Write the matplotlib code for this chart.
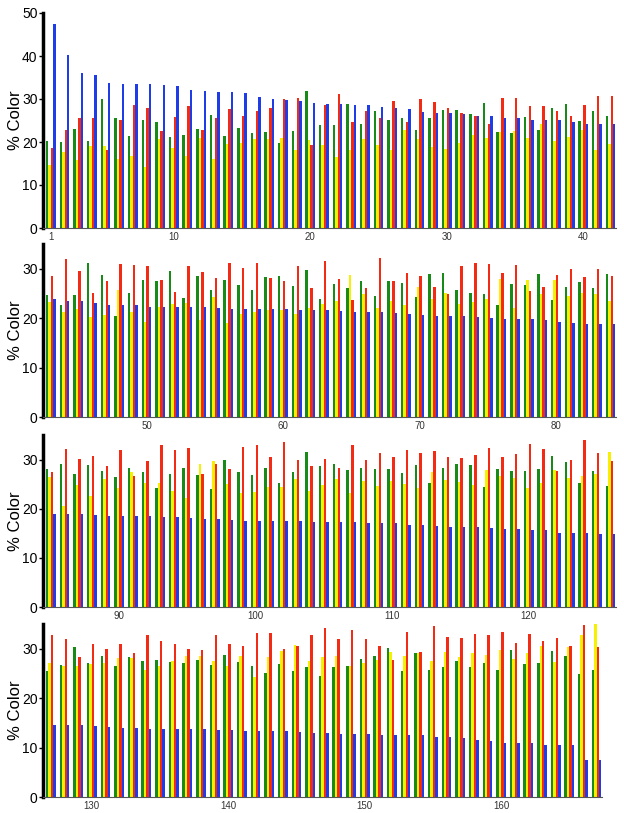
import matplotlib
matplotlib.use('Agg')
import matplotlib.pyplot as plt
import numpy as np

plt.rcParams['font.family'] = ['Liberation Sans', 'DejaVu Sans']

# values per sample (1..167), one list per colour channel
green = [20.3, 19.9, 23.0, 20.3, 29.9, 25.5, 21.5, 25.0, 24.6, 21.1, 21.7, 23.0, 26.2, 21.5,
         23.3, 22.1, 22.4, 19.8, 22.5, 31.9, 24.0, 24.0, 28.9, 24.2, 27.3, 25.2, 25.6, 22.9,
         25.5, 27.4, 27.4, 26.6, 29.1, 22.4, 22.2, 25.9, 22.7, 28.0, 28.9, 24.8, 27.3, 26.1,
         24.6, 22.7, 24.6, 31.2, 28.7, 20.4, 25.1, 27.7, 27.5, 29.5, 24.1, 28.5, 25.6, 27.8,
         26.8, 25.6, 28.3, 28.6, 26.5, 29.7, 23.9, 26.9, 26.0, 27.5, 24.4, 27.5, 27.1, 24.2,
         29.0, 29.2, 25.7, 25.0, 24.8, 22.6, 26.9, 26.7, 29.0, 23.7, 26.4, 27.3, 26.0, 29.0,
         28.0, 29.2, 27.1, 28.9, 27.6, 26.4, 28.2, 27.4, 24.3, 27.0, 28.3, 26.8, 24.0, 29.9,
         27.5, 26.9, 28.2, 25.2, 27.4, 31.5, 28.6, 29.1, 27.8, 28.3, 28.1, 28.0, 27.3, 28.8,
         25.2, 28.3, 29.0, 28.9, 24.5, 28.0, 27.6, 27.6, 28.1, 30.8, 29.6, 25.2, 27.6, 24.7,
         25.4, 26.7, 30.3, 27.1, 28.6, 26.6, 28.3, 27.6, 27.8, 27.3, 27.1, 27.8, 26.7, 28.8,
         27.3, 26.6, 25.1, 26.9, 25.4, 26.4, 24.4, 26.4, 26.6, 27.9, 28.6, 30.1, 25.4, 29.2,
         25.6, 26.2, 27.6, 26.2, 27.1, 25.6, 29.8, 26.9, 27.2, 29.5, 28.5, 24.9, 25.7]
yellow = [14.6, 17.7, 15.9, 19.0, 19.0, 16.0, 16.8, 14.3, 20.6, 18.6, 16.7, 21.0, 16.0, 19.6,
          19.8, 20.7, 20.6, 21.0, 18.2, 20.4, 19.2, 16.5, 18.2, 20.6, 19.4, 18.2, 22.9, 20.6,
          18.8, 18.4, 19.8, 21.7, 21.0, 22.3, 22.5, 21.0, 24.2, 20.2, 21.2, 22.7, 18.2, 19.6,
          23.2, 21.2, 21.9, 20.3, 20.6, 25.6, 21.2, 19.3, 22.2, 22.9, 23.1, 19.7, 24.2, 19.0,
          20.8, 21.2, 21.6, 21.7, 20.8, 22.0, 22.9, 23.5, 28.7, 24.8, 22.0, 23.5, 22.7, 26.2,
          23.9, 25.1, 22.9, 23.3, 23.9, 28.0, 22.0, 27.7, 24.8, 27.8, 24.4, 25.1, 24.9, 23.5,
          26.4, 20.6, 24.8, 22.5, 26.0, 24.2, 27.4, 25.2, 25.2, 23.7, 22.1, 29.0, 29.7, 25.0,
          23.1, 23.3, 24.5, 24.5, 26.0, 23.7, 24.8, 26.0, 23.1, 25.7, 24.7, 25.7, 25.0, 24.2,
          27.4, 25.8, 25.4, 24.9, 27.9, 26.7, 26.2, 24.3, 25.2, 27.8, 26.2, 26.7, 27.1, 31.5,
          27.1, 26.6, 26.6, 26.9, 27.1, 28.2, 28.2, 25.6, 26.6, 27.5, 28.6, 28.6, 27.5, 26.6,
          28.6, 24.2, 28.3, 29.5, 30.7, 27.6, 28.3, 28.6, 26.6, 27.1, 27.7, 29.3, 28.6, 29.1,
          27.6, 29.3, 28.3, 29.1, 28.8, 29.8, 27.9, 29.1, 30.5, 27.3, 30.3, 32.7, 35.0]
red = [18.5, 22.7, 25.6, 25.6, 18.1, 25.2, 28.7, 27.8, 22.5, 25.9, 28.3, 22.7, 25.6, 27.7,
       26.0, 27.1, 27.8, 30.1, 30.3, 19.2, 28.5, 31.2, 24.7, 27.2, 25.6, 29.5, 24.6, 30.1,
       29.3, 27.9, 26.8, 26.0, 24.3, 30.2, 30.2, 28.3, 28.3, 27.1, 26.0, 28.5, 30.8, 30.7,
       28.5, 32.0, 29.5, 25.0, 27.5, 30.9, 30.7, 30.5, 27.7, 25.2, 30.5, 29.4, 28.1, 31.1,
       30.2, 31.2, 28.2, 27.6, 30.6, 26.1, 31.5, 28.0, 23.6, 26.1, 32.2, 27.5, 29.1, 28.6,
       26.4, 24.9, 30.6, 31.1, 30.9, 29.2, 30.7, 25.4, 26.3, 28.8, 29.9, 28.4, 30.0, 28.5,
       27.5, 32.2, 30.1, 30.7, 28.6, 31.9, 26.7, 29.8, 33.0, 32.0, 32.3, 27.1, 29.1, 28.1,
       32.5, 33.0, 30.5, 33.6, 29.9, 28.6, 30.1, 28.3, 32.9, 29.9, 31.3, 30.5, 32.0, 31.4,
       31.7, 30.6, 30.3, 30.9, 32.4, 30.6, 31.2, 33.1, 32.1, 27.6, 29.9, 34.0, 31.4, 29.8,
       32.7, 31.9, 28.4, 31.0, 29.9, 30.9, 29.2, 32.7, 31.6, 30.9, 30.0, 29.7, 32.7, 31.0,
       30.5, 33.2, 33.1, 30.0, 30.5, 32.7, 34.1, 32.0, 33.7, 32.0, 30.5, 27.7, 33.4, 29.3,
       34.6, 32.4, 32.2, 32.9, 32.7, 33.4, 31.2, 32.9, 31.5, 32.2, 30.5, 34.8, 30.3]
blue = [47.4, 40.2, 36.1, 35.5, 33.8, 33.4, 33.4, 33.4, 33.2, 33.0, 32.1, 31.9, 31.7, 31.7,
        31.5, 30.5, 29.9, 29.7, 29.5, 29.1, 28.9, 28.9, 28.7, 28.5, 28.2, 27.8, 27.6, 27.0,
        26.8, 26.7, 26.5, 26.0, 26.0, 25.6, 25.5, 25.2, 25.2, 25.1, 24.6, 24.3, 24.3, 24.1,
        23.9, 23.4, 23.4, 23.1, 22.7, 22.7, 22.6, 22.2, 22.2, 22.2, 22.2, 22.2, 22.1, 21.9,
        21.9, 21.8, 21.8, 21.8, 21.7, 21.6, 21.6, 21.4, 21.2, 21.2, 21.2, 21.0, 20.8, 20.7,
        20.5, 20.4, 20.4, 20.2, 20.1, 19.9, 19.9, 19.8, 19.7, 19.2, 19.1, 18.9, 18.9, 18.9,
        19.0, 18.9, 18.9, 18.7, 18.6, 18.5, 18.5, 18.5, 18.3, 18.3, 18.1, 17.9, 17.9, 17.8,
        17.6, 17.6, 17.6, 17.4, 17.4, 17.2, 17.2, 17.2, 17.2, 17.0, 17.0, 17.0, 16.7, 16.7,
        16.5, 16.3, 16.2, 16.2, 16.0, 15.8, 15.8, 15.7, 15.6, 15.0, 15.0, 15.0, 14.9, 14.9,
        14.5, 14.5, 14.5, 14.3, 14.2, 14.0, 14.0, 13.8, 13.8, 13.8, 13.7, 13.7, 13.6, 13.5,
        13.4, 13.3, 13.3, 13.3, 13.2, 13.0, 13.0, 12.8, 12.8, 12.7, 12.6, 12.6, 12.5, 12.5,
        12.1, 12.1, 11.9, 11.6, 11.4, 11.0, 11.0, 11.0, 10.6, 10.5, 10.5, 7.4, 7.4]

panel_ranges = [(1, 42), (43, 84), (85, 126), (127, 167)]
panel_ymax = [50, 35, 35, 35]
panel_yticks = [[0, 10, 20, 30, 40, 50], [0, 10, 20, 30], [0, 10, 20, 30], [0, 10, 20, 30]]
panel_xticks = [[1, 10, 20, 30, 40], [50, 60, 70, 80], [90, 100, 110, 120], [130, 140, 150, 160]]

colors = ['#178a17', '#f7f000', '#f42b14', '#1e3de8']
series = [green, yellow, red, blue]

W, H = 624, 813
# axes boxes in pixels: left, top, right, bottom
boxes = [(43, 13, 616, 228), (43, 244, 616, 417), (43, 435, 616, 607), (43, 624, 602, 797)]

fig = plt.figure(figsize=(W / 100, H / 100), dpi=100)
w = 0.18

for p, (lo, hi) in enumerate(panel_ranges):
    l, t, r, b = boxes[p]
    ax = fig.add_axes([l / W, 1 - b / H, (r - l) / W, (b - t) / H])
    x = np.arange(lo, hi + 1)
    for k in range(4):
        ax.bar(x + (k - 1.5) * w, series[k][lo - 1:hi], width=w, color=colors[k], linewidth=0)
    ax.set_xlim(lo - 0.58, hi + 0.4)
    ax.set_ylim(0, panel_ymax[p])
    ax.set_yticks(panel_yticks[p])
    ax.set_xticks(panel_xticks[p])
    ax.spines['top'].set_visible(False)
    ax.spines['right'].set_visible(False)
    ax.spines['left'].set_linewidth(2.5)
    ax.spines['left'].set_color('black')
    ax.spines['bottom'].set_linewidth(0.8)
    ax.spines['bottom'].set_color('#555555')
    ax.tick_params(axis='x', length=0, labelsize=7, colors='#333333', pad=3)
    ax.tick_params(axis='y', length=3, width=1, labelsize=10, pad=1)
    ax.set_ylabel('% Color', fontsize=12, labelpad=-1)

plt.savefig('out.png', dpi=100)
